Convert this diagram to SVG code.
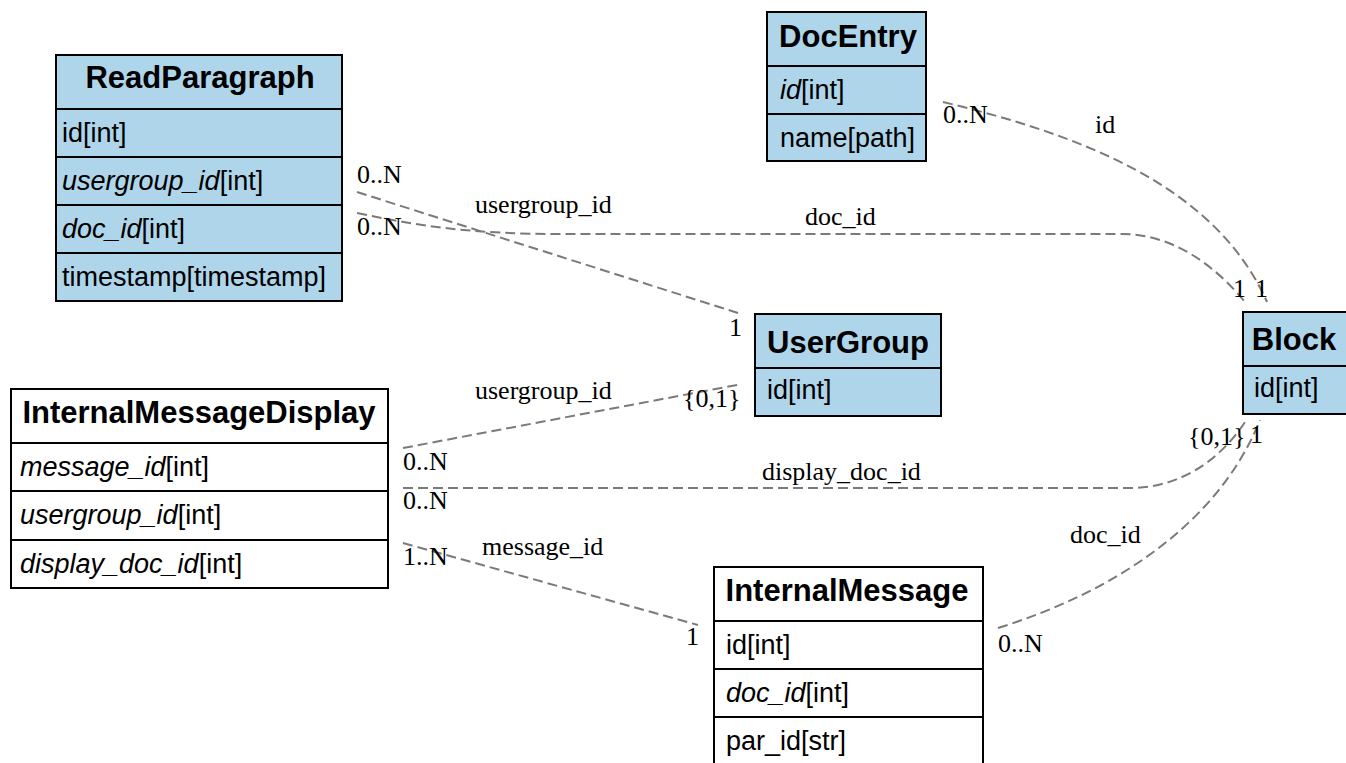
<svg xmlns="http://www.w3.org/2000/svg" width="1346" height="763" viewBox="0 0 1346 763">
  <style>
    .box { stroke: #000; stroke-width: 2; }
    .blue { fill: #aed5ea; }
    .white { fill: #ffffff; }
    .sep { stroke: #000; stroke-width: 2; }
    .hdr { font-family: "Liberation Sans", Arial, sans-serif; font-size: 31px; font-weight: bold; fill: #000; text-anchor: middle; }
    .fld { font-family: "Liberation Sans", Arial, sans-serif; font-size: 27px; fill: #000; }
    .fld .k { font-style: italic; }
    .edge { fill: none; stroke: #7a7a7a; stroke-width: 2; stroke-dasharray: 10 5; }
    .lbl { font-family: "Liberation Serif", "Times New Roman", serif; font-size: 26px; fill: #000; }
  </style>

  <!-- relations -->
  <g id="connectors">
    <path class="edge" d="M357,192 L738,313"/>
    <path class="edge" d="M357,213 C420,226 470,234 560,234 L1122,234 C1170,234 1212,262 1245,302"/>
    <path class="edge" d="M943,102 C1080,135 1215,185 1267,302"/>
    <path class="edge" d="M403,448 L742,384"/>
    <path class="edge" d="M403,488 L1130,488 C1180,488 1220,460 1245,422"/>
    <path class="edge" d="M998,628 C1120,590 1220,520 1260,420"/>
    <path class="edge" d="M403,543 L698,625"/>

    <text class="lbl" x="357" y="183">0..N</text>
    <text class="lbl" x="475" y="213">usergroup_id</text>
    <text class="lbl" x="729" y="336">1</text>

    <text class="lbl" x="357" y="235">0..N</text>
    <text class="lbl" x="805" y="225">doc_id</text>
    <text class="lbl" x="1233" y="297">1</text>

    <text class="lbl" x="943" y="123">0..N</text>
    <text class="lbl" x="1095" y="133">id</text>
    <text class="lbl" x="1255" y="297">1</text>

    <text class="lbl" x="403" y="470">0..N</text>
    <text class="lbl" x="475" y="399">usergroup_id</text>
    <text class="lbl" x="683" y="407">{0,1}</text>

    <text class="lbl" x="403" y="509">0..N</text>
    <text class="lbl" x="762" y="480">display_doc_id</text>
    <text class="lbl" x="1188" y="445">{0,1}</text>

    <text class="lbl" x="998" y="652">0..N</text>
    <text class="lbl" x="1070" y="543">doc_id</text>
    <text class="lbl" x="1250" y="443">1</text>

    <text class="lbl" x="403" y="565">1..N</text>
    <text class="lbl" x="482" y="555">message_id</text>
    <text class="lbl" x="686" y="645">1</text>
  </g>

  <!-- tables -->
  <g id="ReadParagraph">
    <rect class="box blue" x="56" y="55" width="286" height="246"/>
    <line class="sep" x1="56" y1="109" x2="342" y2="109"/>
    <line class="sep" x1="56" y1="157" x2="342" y2="157"/>
    <line class="sep" x1="56" y1="205" x2="342" y2="205"/>
    <line class="sep" x1="56" y1="253" x2="342" y2="253"/>
    <text class="hdr" x="200" y="88">ReadParagraph</text>
    <text class="fld" x="62" y="142">id[int]</text>
    <text class="fld" x="62" y="190"><tspan class="k">usergroup_id</tspan>[int]</text>
    <text class="fld" x="62" y="238"><tspan class="k">doc_id</tspan>[int]</text>
    <text class="fld" x="62" y="286">timestamp[timestamp]</text>
  </g>

  <g id="DocEntry">
    <rect class="box blue" x="767" y="12" width="159" height="149"/>
    <line class="sep" x1="767" y1="66" x2="926" y2="66"/>
    <line class="sep" x1="767" y1="114" x2="926" y2="114"/>
    <text class="hdr" x="848" y="47">DocEntry</text>
    <text class="fld" x="780" y="99"><tspan class="k">id</tspan>[int]</text>
    <text class="fld" x="780" y="147">name[path]</text>
  </g>

  <g id="UserGroup">
    <rect class="box blue" x="755" y="314" width="186" height="102"/>
    <line class="sep" x1="755" y1="368" x2="941" y2="368"/>
    <text class="hdr" x="848" y="353">UserGroup</text>
    <text class="fld" x="767" y="399">id[int]</text>
  </g>

  <g id="Block">
    <rect class="box blue" x="1243" y="312" width="107" height="102"/>
    <line class="sep" x1="1243" y1="366" x2="1350" y2="366"/>
    <text class="hdr" x="1294" y="350">Block</text>
    <text class="fld" x="1254" y="397">id[int]</text>
  </g>

  <g id="InternalMessageDisplay">
    <rect class="box white" x="11" y="389" width="377" height="199"/>
    <line class="sep" x1="11" y1="443" x2="388" y2="443"/>
    <line class="sep" x1="11" y1="491" x2="388" y2="491"/>
    <line class="sep" x1="11" y1="540" x2="388" y2="540"/>
    <text class="hdr" x="199" y="423">InternalMessageDisplay</text>
    <text class="fld" x="20" y="476"><tspan class="k">message_id</tspan>[int]</text>
    <text class="fld" x="20" y="524"><tspan class="k">usergroup_id</tspan>[int]</text>
    <text class="fld" x="20" y="573"><tspan class="k">display_doc_id</tspan>[int]</text>
  </g>

  <g id="InternalMessage">
    <rect class="box white" x="714" y="567" width="269" height="198"/>
    <line class="sep" x1="714" y1="621" x2="983" y2="621"/>
    <line class="sep" x1="714" y1="669" x2="983" y2="669"/>
    <line class="sep" x1="714" y1="717" x2="983" y2="717"/>
    <text class="hdr" x="847" y="601">InternalMessage</text>
    <text class="fld" x="726" y="654">id[int]</text>
    <text class="fld" x="726" y="702"><tspan class="k">doc_id</tspan>[int]</text>
    <text class="fld" x="726" y="750">par_id[str]</text>
  </g>
</svg>
